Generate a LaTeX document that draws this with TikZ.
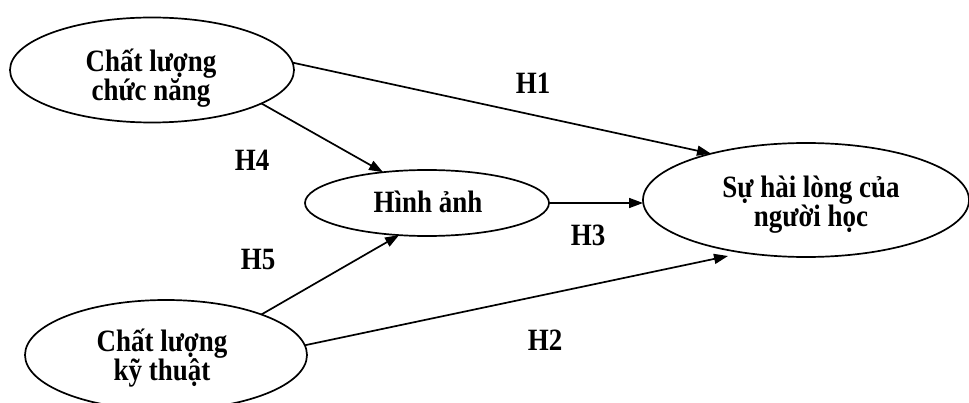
\documentclass[tikz,border=0pt]{standalone}
\usepackage{fontspec}
\setmainfont{Liberation Serif}[FakeStretch=0.87]
\usetikzlibrary{shapes.geometric,arrows.meta}
\begin{document}
\begin{tikzpicture}[x=1pt,y=-1pt,
  ell/.style={draw, ellipse, line width=1.7pt, inner sep=0pt, outer sep=0pt},
  txt/.style={font=\fontsize{31}{29}\selectfont\bfseries, inner sep=0pt, align=center, anchor=base},
  lab/.style={font=\fontsize{31}{29}\selectfont\bfseries, inner sep=0pt},
  arr/.style={line width=1.7pt, -{Triangle[length=14pt,width=10pt]}}]
\useasboundingbox (0,0) rectangle (969,403);
\node[ell, minimum width=284pt, minimum height=105pt] (e1) at (152,70) {};
\node[ell, minimum width=244pt, minimum height=66pt] (e2) at (427,203) {};
\node[ell, minimum width=326pt, minimum height=114pt] (e3) at (806,200) {};
\node[ell, minimum width=282pt, minimum height=110pt] (e4) at (166,355) {};
\node[txt] (t1) at (151,101) {Chất lượng\\chức năng};
\node[txt] (t2) at (428,213) {Hình ảnh};
\node[txt] (t3) at (811,227) {Sự hài lòng của\\người học};
\node[txt] (t4) at (162,380) {Chất lượng\\kỹ thuật};
\coordinate (h2tip) at (728,256);
\draw[arr] (e1.3) -- (e3.154.6);
\draw[arr] (e1.-17.7) -- (e2.145);
\draw[arr] (e4.23.6) -- (e2.-131.3);
\draw[arr] (e4.4) -- (h2tip);
\draw[arr] (e2.east) -- (e2.east -| e3.west);
\node[lab] (h1) at (533,83) {H1};
\node[lab] (h4) at (252,160) {H4};
\node[lab] (h5) at (258,260) {H5};
\node[lab] (h3) at (588,235) {H3};
\node[lab] (h2) at (545,340) {H2};
\end{tikzpicture}
\end{document}
